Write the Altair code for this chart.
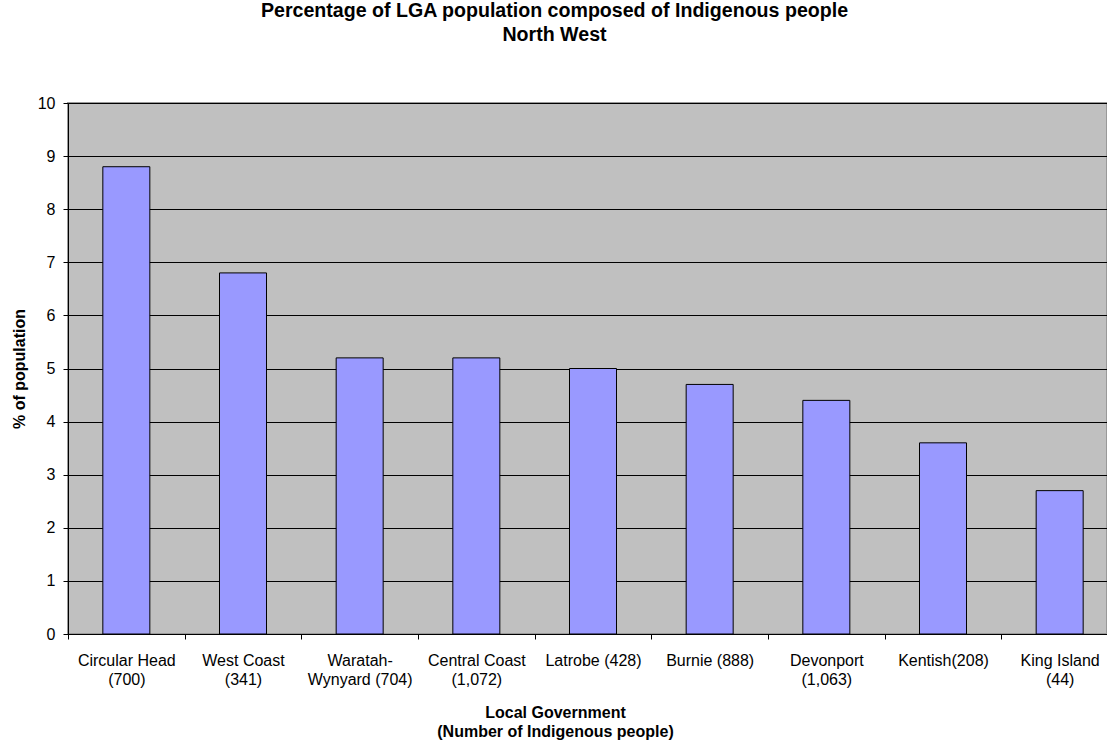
import altair as alt
import pandas as pd

# Local government areas (with Indigenous head count) and share of population (%)
lgas = [
    "Circular Head\n(700)",
    "West Coast\n(341)",
    "Waratah-\nWynyard (704)",
    "Central Coast\n(1,072)",
    "Latrobe (428)",
    "Burnie (888)",
    "Devonport\n(1,063)",
    "Kentish(208)",
    "King Island\n(44)",
]
pct = [8.8, 6.8, 5.2, 5.2, 5.0, 4.7, 4.4, 3.6, 2.7]
y_ticks = list(range(0, 11))

df = pd.DataFrame({"lga": lgas, "pct": pct})

FONT = "Liberation Sans"

bars = alt.Chart(df).mark_bar(
    size=47, color="#9999FF", stroke="black", strokeWidth=1
).encode(
    x=alt.X(
        "lga:N",
        sort=None,
        scale=alt.Scale(range=[0, 1050], paddingInner=0, paddingOuter=0),
        axis=alt.Axis(
            title=["Local Government", "(Number of Indigenous people)"],
            labelAngle=0,
            labelExpr="split(datum.label, '\\n')",
            labelLineHeight=19,
            labelOverlap=False,
            labelPadding=13,
            tickBand="extent",
            tickSize=5,
            grid=False,
            titleX=487,
            titleY=83,
            titleAlign="center",
            titleBaseline="alphabetic",
            titleLineHeight=19,
        ),
    ),
    y=alt.Y(
        "pct:Q",
        scale=alt.Scale(domain=[0, 10], nice=False),
        axis=alt.Axis(
            values=y_ticks,
            title="% of population",
            grid=True,
            gridColor="black",
            gridWidth=1,
            tickSize=5,
            labelPadding=8,
            titleAngle=270,
            titleX=-49,
            titleY=265.5,
            titleAlign="center",
            titleBaseline="middle",
        ),
    ),
)

chart = bars.properties(
    width=1039,
    height=531,
    background="white",
    autosize=alt.AutoSizeParams(type="none"),
    padding={"left": 68, "top": 103, "right": 0, "bottom": 106},
    title=alt.TitleParams(
        text=["Percentage of LGA population composed of Indigenous people", "North West"],
        font=FONT,
        fontSize=19.6,
        fontWeight="bold",
        color="black",
        anchor="middle",
        dx=-33,
        offset=49,
        lineHeight=24,
    ),
).configure_view(
    fill="#C0C0C0", stroke="#999999", strokeWidth=2
).configure_axis(
    domainColor="black",
    domainWidth=1,
    tickColor="black",
    tickWidth=1,
    labelFont=FONT,
    labelFontSize=16,
    labelColor="black",
    titleFont=FONT,
    titleFontSize=16,
    titleFontWeight="bold",
    titleColor="black",
)

chart.save("out.html", embed_options={"renderer": "svg", "actions": False})
